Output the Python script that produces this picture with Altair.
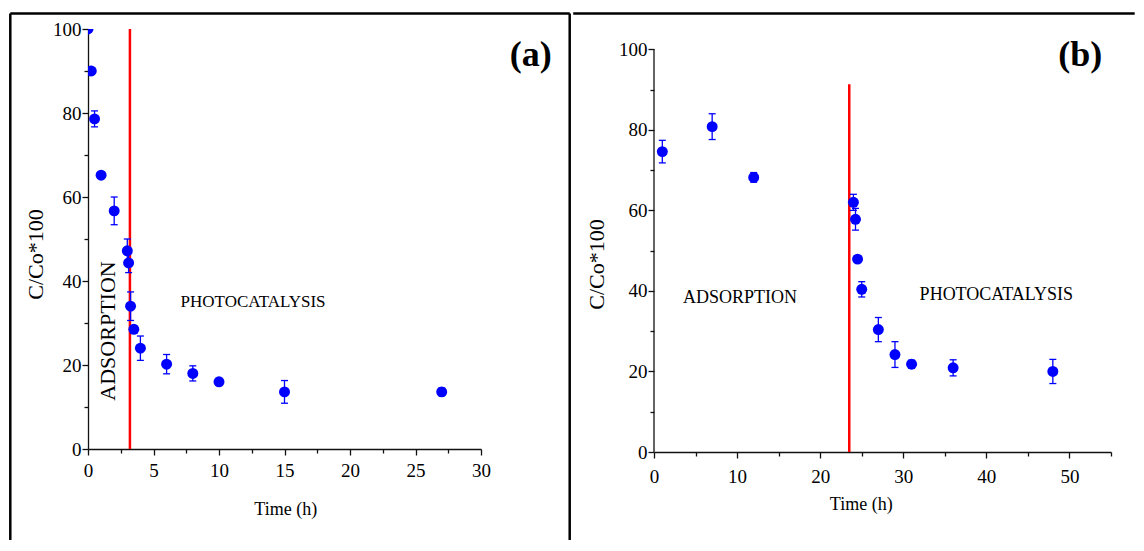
import altair as alt
import pandas as pd

# ---------------- data ----------------
# Panel (a)
time_a = [0, 0.25, 0.5, 1, 2, 3, 3.1, 3.25, 3.5, 4, 6, 8, 10, 15, 27]
conc_a = [100, 90.0, 78.6, 65.2, 56.7, 47.2, 44.3, 34.0, 28.5, 24.0, 20.2, 18.0, 16.0, 13.6, 13.6]
err_a = [0, 0.5, 1.9, 0.6, 3.3, 2.8, 2.3, 3.4, 0.8, 2.9, 2.3, 1.8, 0.8, 2.7, 0.9]

# Panel (b)
time_b = [1, 7, 12, 24, 24.25, 24.5, 25, 27, 29, 31, 36, 48]
conc_b = [74.6, 80.8, 68.2, 62.0, 57.8, 47.9, 40.4, 30.4, 24.2, 21.8, 20.9, 20.0]
err_b = [2.8, 3.2, 1.2, 2.0, 2.7, 0.8, 1.9, 3.0, 3.2, 1.0, 2.0, 3.0]

# red separation lines (time, top value)
sep_a = [3.2, 100]
sep_b = [23.5, 91.3]

# tick values
x_ticks_a = [0, 2.5, 5, 7.5, 10, 12.5, 15, 17.5, 20, 22.5, 25, 27.5, 30]
x_ticks_b = [0, 5, 10, 15, 20, 25, 30, 35, 40, 45, 50, 55]
y_ticks = [0, 10, 20, 30, 40, 50, 60, 70, 80, 90, 100]
y_axis_range = [0, 100]

# annotations: text, x, y, angle, font size
notes_a = [("ADSORPTION", 1.56, 28.1, 270, 22), ("PHOTOCATALYSIS", 12.6, 35.1, 0, 17)]
notes_b = [("ADSORPTION", 10.35, 38.2, 0, 18), ("PHOTOCATALYSIS", 41.2, 39.1, 0, 18)]
letter_a = ("(a)", 33.8, 93.8)
letter_b = ("(b)", 51.3, 98.7)

FONT = "Liberation Serif"
BLUE = "#0000FF"


def make_panel(times, concs, errs, xmax, ymax, width, height, xvals, xmod, sep, notes,
               letter, xtitle_xy, ytitle_xy, xlabpad, frames, draw_ydomain):
    df = pd.DataFrame({
        "t": times, "c": concs,
        "lo": [c - e for c, e in zip(concs, errs)],
        "hi": [c + e for c, e in zip(concs, errs)],
    })
    xs = alt.Scale(domain=[0, xmax], nice=False, zero=False)
    ys = alt.Scale(domain=[0, ymax], nice=False, zero=False)
    common = dict(grid=False, domainColor="#111111", domainWidth=1.3, tickColor="#111111",
                  tickWidth=1.3, labelColor="black", titleColor="black", labelFont=FONT,
                  titleFont=FONT, labelFontSize=19, labelOverlap=False, labelFlush=False,
                  titleFontWeight="normal", titleAlign="center", titleBaseline="middle")
    xaxis = alt.Axis(values=xvals,
                     labelExpr=f"datum.value % {xmod} == 0 ? datum.label : ''",
                     tickSize={"condition": {"test": f"datum.value % {xmod} != 0", "value": 4}, "value": 6},
                     labelPadding=xlabpad, title="Time (h)", titleFontSize=18,
                     titleX=xtitle_xy[0], titleY=xtitle_xy[1], **common)
    yaxis = alt.Axis(values=y_ticks,
                     labelExpr="datum.value % 20 == 0 ? datum.label : ''",
                     tickSize={"condition": {"test": "datum.value % 20 != 0", "value": 4}, "value": 6},
                     labelPadding=1, title="C/Co*100", titleFontSize=22, titleAngle=270,
                     titleX=ytitle_xy[0], titleY=ytitle_xy[1], domain=draw_ydomain, **common)

    def X(f):
        return alt.X(f, scale=xs, axis=xaxis)

    def Y(f):
        return alt.Y(f, scale=ys, axis=yaxis)

    base = alt.Chart(df)
    pts = base.mark_circle(size=120, color=BLUE, opacity=1, clip=True).encode(x=X("t:Q"), y=Y("c:Q"))
    bars = base.mark_rule(color=BLUE, strokeWidth=1.3, clip=True).encode(
        x=X("t:Q"), y=Y("lo:Q"), y2="hi:Q")
    cap_lo = base.mark_tick(orient="horizontal", size=7, thickness=1.3, color=BLUE, clip=True,
                            opacity=1).encode(x=X("t:Q"), y=Y("lo:Q"))
    cap_hi = base.mark_tick(orient="horizontal", size=7, thickness=1.3, color=BLUE, clip=True,
                            opacity=1).encode(x=X("t:Q"), y=Y("hi:Q"))

    sep_df = pd.DataFrame({"x": [sep[0]], "y0": [0], "y1": [sep[1]]})
    red = alt.Chart(sep_df).mark_rule(color="#FF0000", strokeWidth=2.5).encode(
        x=X("x:Q"), y=Y("y0:Q"), y2="y1:Q")

    layers = [red, bars, cap_lo, cap_hi, pts]
    if not draw_ydomain:
        ax_df = pd.DataFrame({"x": [0], "y0": [y_axis_range[0]], "y1": [y_axis_range[1]]})
        layers.append(alt.Chart(ax_df).mark_rule(color="#111111", strokeWidth=1.3).encode(
            x=X("x:Q"), y=Y("y0:Q"), y2="y1:Q"))
    for txt, tx, ty, ang, fs in notes:
        ndf = pd.DataFrame({"x": [tx], "y": [ty], "s": [txt]})
        layers.append(alt.Chart(ndf).mark_text(font=FONT, fontSize=fs, angle=ang, align="center",
                                               baseline="middle", color="black").encode(
            x=X("x:Q"), y=Y("y:Q"), text="s:N"))
    ldf = pd.DataFrame({"x": [letter[1]], "y": [letter[2]], "s": [letter[0]]})
    layers.append(alt.Chart(ldf).mark_text(font=FONT, fontSize=36, fontWeight="bold", align="center",
                                           baseline="middle", color="black").encode(
        x=X("x:Q"), y=Y("y:Q"), text="s:N"))

    one = pd.DataFrame({"d": [0]})
    for (x1, y1, x2, y2) in frames:
        layers.append(alt.Chart(one).mark_rule(color="black", strokeWidth=2.5).encode(
            x=alt.value(x1), y=alt.value(y1), x2=alt.value(x2), y2=alt.value(y2)))

    return alt.layer(*layers).properties(width=width, height=height)


panel_a = make_panel(time_a, conc_a, err_a, 30, 100, 393, 420, x_ticks_a, 5, sep_a, notes_a, letter_a,
                     (197.2, 60.5), (-52.8, 225), 6,
                     [(-77.7, -15.5, -77.7, 511), (-77.7, -15.5, 481.7, -15.5),
                      (481.7, -15.5, 481.7, 511)], True)
panel_b = make_panel(time_b, conc_b, err_b, 55, 105.05, 457, 423, x_ticks_b, 10, sep_b, notes_b, letter_b,
                     (206.7, 52.3), (-57.3, 235), 9,
                     [(-80.8, -15.5, 480.7, -15.5)], False)

chart = alt.hconcat(panel_a, panel_b, spacing=0).properties(
    padding={"left": 1, "top": 4, "right": 0, "bottom": 0},
    background="white",
).configure_view(stroke=None)

chart.save("out.html", embed_options={"renderer": "svg", "actions": False})
